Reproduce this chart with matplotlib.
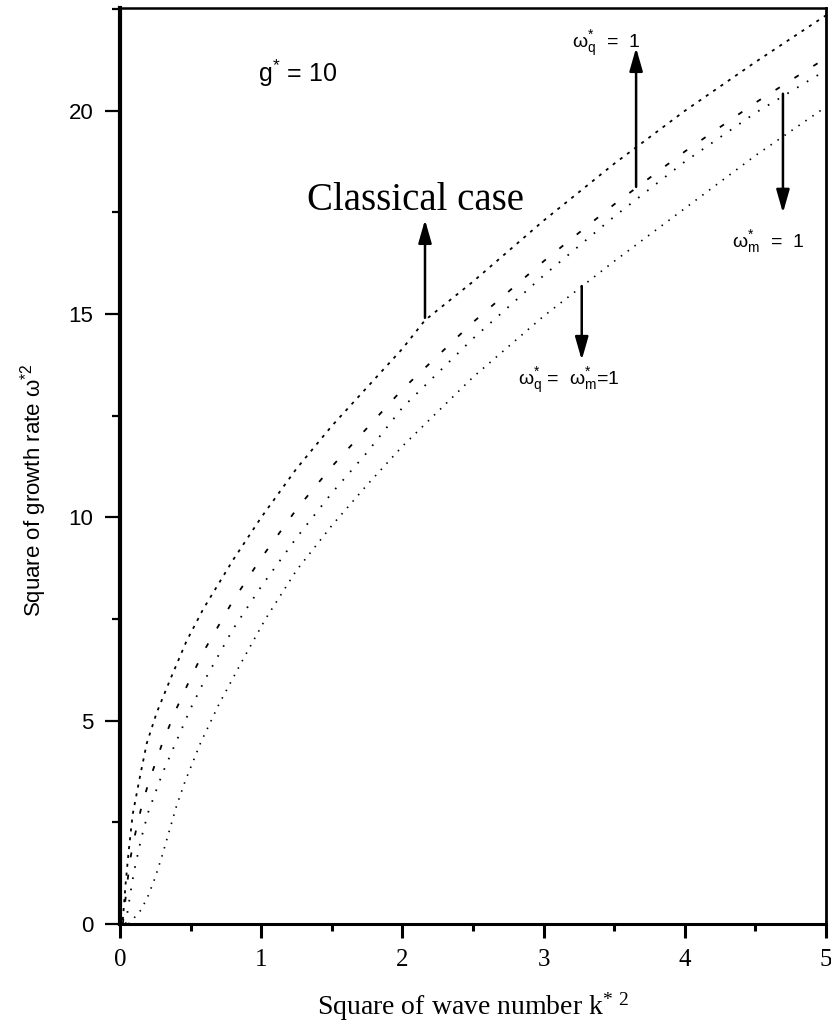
import numpy as np
import matplotlib
matplotlib.use("Agg")
import matplotlib.pyplot as plt
from matplotlib.ticker import MultipleLocator

# -------------------- data --------------------
# classical case
k_classical = [0.02, 0.04, 0.06, 0.09, 0.14, 0.19, 0.26, 0.36, 0.47, 0.59, 0.8, 1.0,
               1.25, 1.5, 1.75, 2.0, 2.16, 2.5, 3.0, 3.5, 4.0, 4.5, 5.0]
w_classical = [0.1, 1.0, 1.74, 2.7, 3.6, 4.45, 5.2, 6.05, 6.95, 7.75, 8.95, 10.0,
               11.2, 12.25, 13.2, 14.15, 14.85, 15.8, 17.3, 18.7, 20.0, 21.2, 22.35]

# omega_q* = 1
k_wq = [0.02, 0.035, 0.05, 0.07, 0.1, 0.15, 0.2, 0.3, 0.4, 0.5, 0.6, 0.8, 1.0,
        1.25, 1.5, 1.75, 2.0, 2.5, 3.0, 3.5, 4.0, 4.5, 5.0]
w_wq = [0.0, 0.5, 0.95, 1.55, 2.1, 2.85, 3.45, 4.45, 5.3, 6.05, 6.75, 7.95, 9.0,
        10.2, 11.25, 12.2, 13.15, 14.8, 16.3, 17.7, 19.0, 20.2, 21.3]

# omega_m* = 1
k_wm = [0.04, 0.06, 0.085, 0.1, 0.15, 0.2, 0.3, 0.4, 0.5, 0.6, 0.8, 1.0,
        1.25, 1.5, 1.75, 2.0, 2.5, 3.0, 3.5, 4.0, 4.5, 5.0]
w_wm = [0.0, 0.45, 1.0, 1.3, 2.1, 2.75, 3.7, 4.5, 5.3, 6.0, 7.25, 8.3,
        9.5, 10.6, 11.6, 12.7, 14.4, 15.95, 17.4, 18.75, 19.95, 21.0]

# omega_q* = omega_m* = 1
k_both = [0.06, 0.1, 0.15, 0.2, 0.25, 0.3, 0.35, 0.4, 0.46, 0.57, 0.7, 0.87, 1.03,
          1.25, 1.5, 1.75, 2.0, 2.5, 3.0, 3.5, 4.0, 4.5, 5.0]
w_both = [0.0, 0.15, 0.35, 0.7, 1.15, 1.7, 2.3, 2.9, 3.5, 4.45, 5.4, 6.5, 7.5,
          8.7, 9.8, 10.8, 11.75, 13.45, 14.95, 16.3, 17.6, 18.9, 20.1]

x_ticks = [0, 1, 2, 3, 4, 5]
y_ticks = [0, 5, 10, 15, 20]

# -------------------- style --------------------
plt.rcParams["lines.scale_dashes"] = False
plt.rcParams["mathtext.default"] = "regular"
SANS = ["Liberation Sans", "DejaVu Sans"]
SERIF = ["Liberation Serif", "DejaVu Serif"]

fig = plt.figure(figsize=(8.31, 10.36), dpi=100)
ax = fig.add_axes([0.1444, 0.1081, 0.8496, 0.8842])

ax.plot(k_classical, w_classical, color="k", lw=1.3, ls=(0, (2.2, 4.2)))
ax.plot(k_wq, w_wq, color="k", lw=1.3, ls=(0, (3.6, 12.5)))
ax.plot(k_wm, w_wm, color="k", lw=1.3, ls=(0, (1.2, 7.0)))
ax.plot(k_both, w_both, color="k", lw=1.2, ls=(0, (1.1, 5.0)))

ax.set_xlim(0, 5)
ax.set_ylim(0, 22.53)
ax.set_xticks(x_ticks)
ax.set_yticks(y_ticks)
ax.xaxis.set_minor_locator(MultipleLocator(0.5))
ax.yaxis.set_minor_locator(MultipleLocator(2.5))

for lab in ax.get_xticklabels():
    lab.set_family(SERIF)
    lab.set_fontsize(18)
for lab in ax.get_yticklabels():
    lab.set_family(SANS)
    lab.set_fontsize(16)

ax.tick_params(axis="x", which="major", direction="out", length=10, width=2.2, pad=8)
ax.tick_params(axis="x", which="minor", direction="out", length=5, width=2.2)
ax.tick_params(axis="y", which="major", direction="out", length=11, width=1.6, pad=8)
ax.tick_params(axis="y", which="minor", direction="out", length=5.5, width=1.6)

ax.spines["left"].set_linewidth(3.0)
ax.spines["bottom"].set_linewidth(2.2)
ax.spines["top"].set_linewidth(1.8)
ax.spines["right"].set_linewidth(2.0)

ax.set_xlabel(r"Square of wave number k$^{*\ 2}$", fontsize=20, family=SERIF)
ax.xaxis.set_label_coords(0.5, -0.073)
ax.set_ylabel(r"Square of growth rate $\omega^{*2}$", fontsize=16, family=SANS)
ax.yaxis.set_label_coords(-0.10, 0.474)

# -------------------- annotations --------------------
ax.text(0.98, 20.7, r"g$^{*}$ = 10", fontsize=18, family=SANS, ha="left", va="baseline")
ax.text(1.324, 17.56, "Classical case", fontsize=28, family=SERIF, ha="left", va="baseline")
ax.text(3.20, 21.55, r"$\omega^{*}_{q}$  =  1", fontsize=14, family=SANS, ha="left", va="baseline")
ax.text(4.334, 16.65, r"$\omega^{*}_{m}$  =  1", fontsize=14, family=SANS, ha="left", va="baseline")
ax.text(2.82, 13.26, r"$\omega^{*}_{q}$ =  $\omega^{*}_{m}$=1", fontsize=14, family=SANS,
        ha="left", va="baseline")

arrow_kw = dict(arrowstyle="-|>,head_length=0.7,head_width=0.2", color="k", lw=1.8,
                mutation_scale=20, shrinkA=0, shrinkB=0)
ax.annotate("", xy=(2.16, 17.32), xytext=(2.16, 14.91), arrowprops=arrow_kw)
ax.annotate("", xy=(3.655, 21.55), xytext=(3.655, 18.13), arrowprops=arrow_kw)
ax.annotate("", xy=(4.695, 17.49), xytext=(4.695, 20.42), arrowprops=arrow_kw)
ax.annotate("", xy=(3.27, 13.87), xytext=(3.27, 15.69), arrowprops=arrow_kw)

fig.savefig("out.png", dpi=100)
